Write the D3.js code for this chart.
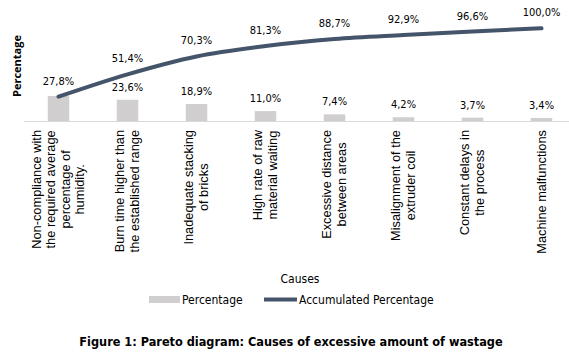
<!DOCTYPE html>
<html>
<head>
<meta charset="utf-8">
<script src="https://cdn.jsdelivr.net/npm/d3@7"></script>
<style>
  body { margin: 0; background: #fff; }
  .num { font-family: "DejaVu Sans Condensed", "DejaVu Sans", sans-serif; font-stretch: condensed; font-size: 11px; fill: #000; }
  .leg { font-family: "DejaVu Sans Condensed", "DejaVu Sans", sans-serif; font-stretch: condensed; font-size: 12px; fill: #000; }
  .cat { font-family: "Liberation Sans", Arial, sans-serif; font-size: 12.8px; fill: #000; }
</style>
</head>
<body>
<svg width="569" height="354"></svg>
<script>
var svg = d3.select("svg");

// Data
var causes = [
    ["Non-compliance with", "the required average", "percentage of", "humidity."],
    ["Burn time higher than", "the established range"],
    ["Inadequate stacking", "of bricks"],
    ["High rate of raw", "material waiting"],
    ["Excessive distance", "between areas"],
    ["Misalignment of the", "extruder coil"],
    ["Constant delays in", "the process"],
    ["Machine malfunctions"]
];
var percentage = [27.8, 23.6, 18.9, 11.0, 7.4, 4.2, 3.7, 3.4];
var accumulated = [27.8, 51.4, 70.3, 81.3, 88.7, 92.9, 96.6, 100.0];

var fmt = v => v.toFixed(1).replace(".", ",") + "%";
var idx = d3.range(causes.length);

// Scales
var xScale = d3.scaleBand().domain(idx).range([24, 576]);
var barY = d3.scaleLinear().domain([0, 100]).range([121, 31]);
var lineY = d3.scaleLinear().domain([0, 100]).range([123, 28.3]);
var cx = i => xScale(i) + xScale.bandwidth() / 2;
var barW = 21.5;

// Axis line
svg.append("line")
    .attr("x1", 24).attr("x2", 569)
    .attr("y1", 121.5).attr("y2", 121.5)
    .attr("stroke", "#d9d9d9").attr("stroke-width", 1);

// Bars
svg.selectAll(".bar").data(idx).enter().append("rect")
    .attr("class", "bar")
    .attr("x", i => cx(i) - barW / 2)
    .attr("y", i => barY(percentage[i]))
    .attr("width", barW)
    .attr("height", i => barY(0) - barY(percentage[i]))
    .attr("fill", "#d0cece");

// Accumulated line
var line = d3.line()
    .x(i => cx(i))
    .y(i => lineY(accumulated[i]))
    .curve(d3.curveMonotoneX);

svg.append("path")
    .datum(idx)
    .attr("d", line)
    .attr("fill", "none")
    .attr("stroke", "#44546a")
    .attr("stroke-width", 4)
    .attr("stroke-linecap", "round");

// Value labels (first bar label coincides with the line label)
svg.selectAll(".barlab").data(idx.slice(1)).enter().append("text")
    .attr("class", "num")
    .attr("x", i => cx(i))
    .attr("y", i => barY(percentage[i]) - 9)
    .attr("text-anchor", "middle")
    .text(i => fmt(percentage[i]));

svg.selectAll(".linelab").data(idx).enter().append("text")
    .attr("class", "num")
    .attr("x", i => cx(i))
    .attr("y", i => lineY(accumulated[i]) - 12)
    .attr("text-anchor", "middle")
    .text(i => fmt(accumulated[i]));

// Category labels (rotated, lines centred, block starts just below axis)
var lineGap = 14.5;
idx.forEach(function (i) {
    var lines = causes[i];
    var g = svg.append("g");
    var texts = lines.map(function (l) {
        return g.append("text").attr("class", "cat").attr("text-anchor", "middle").text(l);
    });
    var maxW = d3.max(texts, t => t.node().getComputedTextLength());
    var mid = 130 + maxW / 2;
    texts.forEach(function (t, k) {
        var x = cx(i) + (k - (lines.length - 1) / 2) * lineGap + 4;
        t.attr("transform", "translate(" + x + "," + mid + ") rotate(-90)");
    });
});

// Y axis title
svg.append("text")
    .attr("transform", "translate(20.5,66) rotate(-90)")
    .attr("text-anchor", "middle")
    .style("font-family", "'Open Sans', sans-serif")
    .style("font-size", "11px")
    .style("font-weight", "bold")
    .text("Percentage");

// X axis title
svg.append("text")
    .attr("class", "leg")
    .attr("x", 300).attr("y", 283)
    .attr("text-anchor", "middle")
    .text("Causes");

// Legend
svg.append("rect")
    .attr("x", 149).attr("y", 296)
    .attr("width", 31).attr("height", 7)
    .attr("fill", "#d0cece");
svg.append("text")
    .attr("class", "leg")
    .attr("x", 182).attr("y", 303.5)
    .text("Percentage");
svg.append("line")
    .attr("x1", 264).attr("x2", 297)
    .attr("y1", 299.5).attr("y2", 299.5)
    .attr("stroke", "#44546a").attr("stroke-width", 4);
svg.append("text")
    .attr("class", "leg")
    .attr("x", 299).attr("y", 303.5)
    .text("Accumulated Percentage");

// Caption
svg.append("text")
    .attr("class", "leg")
    .attr("x", 291).attr("y", 346)
    .attr("text-anchor", "middle")
    .style("font-weight", "bold")
    .style("font-size", "12.6px")
    .text("Figure 1: Pareto diagram: Causes of excessive amount of wastage");
</script>
</body>
</html>
